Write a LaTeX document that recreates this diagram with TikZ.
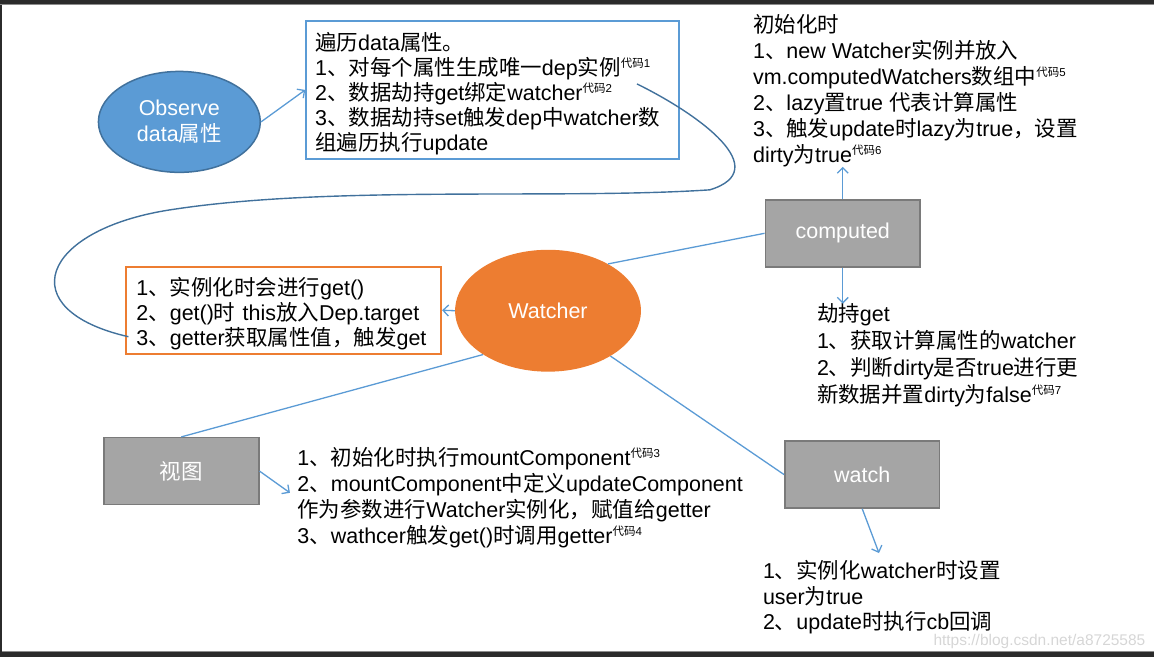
\documentclass[tikz,border=0pt]{standalone}
\usepackage{fontspec}
\setmainfont{Liberation Sans}
\newfontfamily\latinfont{Liberation Sans}
\newfontfamily\cjkfont{Noto Sans CJK SC}
\usetikzlibrary{shapes.geometric,arrows.meta}

\definecolor{obsBlue}{HTML}{5B9BD5}
\definecolor{obsEdge}{HTML}{41719C}
\definecolor{watchOrange}{HTML}{ED7D31}
\definecolor{boxGrey}{HTML}{A5A5A5}
\definecolor{boxEdge}{HTML}{7A7A7A}
\definecolor{frameDark}{HTML}{2B2B2B}
\definecolor{frameGrey}{HTML}{8C8C8C}
\definecolor{markGrey}{HTML}{D6D6D6}

%% chinese characters in the cjk font, the rest in the latin one
\XeTeXinterchartokenstate=1
\newXeTeXintercharclass\cjkclass
\newcount\cjkidx
\cjkidx="3000
\loop
  \XeTeXcharclass\cjkidx=\cjkclass
  \ifnum\cjkidx<"9FFF \advance\cjkidx by 1
\repeat
\cjkidx="FF00
\loop
  \XeTeXcharclass\cjkidx=\cjkclass
  \ifnum\cjkidx<"FFEF \advance\cjkidx by 1
\repeat
\XeTeXinterchartoks 0 \cjkclass={\cjkfont}
\XeTeXinterchartoks 4095 \cjkclass={\cjkfont}
\XeTeXinterchartoks \cjkclass 0={\latinfont}
\XeTeXinterchartoks \cjkclass 4095={\latinfont}

\newcommand\codenote[1]{\raisebox{8pt}{\fontsize{11.5}{11.5}\selectfont 代码#1}}

\begin{document}
\begin{tikzpicture}
[x=1pt,y=-1pt,
  every node/.style={font=\fontsize{21.5}{26}\selectfont},
  lineDecorate/.style={-,line width=1.3pt,draw=obsBlue},%
  arrowDecorate/.style={-{Straight Barb[length=5.5pt,width=11pt]},line width=1.3pt,draw=obsBlue},%
  hookDecorate/.style={line width=1.4pt,draw=obsEdge},%
  blobDecorate/.style={shape=ellipse,inner sep=0pt,text=white,align=center},%
  boxDecorate/.style={shape=rectangle,draw=boxEdge,fill=boxGrey,line width=1.5pt,
    minimum width=155pt,minimum height=67pt,text=white},%
  noteDecorate/.style={shape=rectangle,anchor=north west,line width=2pt,align=left,
    fill=white,font=\fontsize{21.5}{25}\selectfont,
    execute at begin node={\rule{0pt}{25pt}}},%
  textDecorate/.style={anchor=north west,inner sep=0pt,align=left}]
%% frame
\fill[frameDark] (0,0) rectangle (1154,4);
\fill[frameDark] (0,0) rectangle (2,658);
\fill[frameDark] (0,653) rectangle (1154,658);
\draw[frameGrey,line width=1pt] (0,4.5) -- (1154,4.5);
\draw[frameGrey,line width=1pt] (2,652.5) -- (1154,652.5);
\useasboundingbox (0,0) rectangle (1154,658);
%% ellipses
\node (observe) at (179,122) [blobDecorate,fill=obsBlue,draw=obsEdge,line width=1.5pt,
  minimum width=162pt,minimum height=101pt] {Observe\\data属性};
\node (watcher) at (548,311) [blobDecorate,fill=watchOrange,
  minimum width=186pt,minimum height=122pt] {Watcher};
%% grey boxes
\foreach \boxname/\x/\y/\boxtext in {
  computed/843/233.5/computed, view/181/471.5/视图, watch/862.5/475/watch}
{
  \node (\boxname) at (\x,\y) [boxDecorate] {\boxtext};
}
%% framed notes
\node (dataBox) at (305,20) [noteDecorate,draw=obsBlue,inner xsep=9pt,text width=355pt,
  minimum width=373pt,minimum height=138pt]
  {遍历data属性。\\1、对每个属性生成唯一dep实例\codenote{1}\\2、数据劫持get绑定watcher\codenote{2}\\
   3、数据劫持set触发dep中watcher数\\组遍历执行update};
\node (getBox) at (125,266) [noteDecorate,draw=watchOrange,inner xsep=10pt,text width=295pt,
  minimum width=315pt,minimum height=87pt]
  {1、实例化时会进行get()\\2、get()时 this放入Dep.target\\3、getter获取属性值，触发get};
%% plain notes
\node (initText) at (753,14) [textDecorate]
  {初始化时\\1、new Watcher实例并放入\\vm.computedWatchers数组中\codenote{5}\\
   2、lazy置true 代表计算属性\\3、触发update时lazy为true，设置\\dirty为true\codenote{6}};
\node (hijackText) at (817,304) [textDecorate,font=\fontsize{21.5}{27}\selectfont]
  {劫持get\\1、获取计算属性的watcher\\2、判断dirty是否true进行更\\新数据并置dirty为false\codenote{7}};
\node (mountText) at (297,448) [textDecorate]
  {1、初始化时执行mountComponent\codenote{3}\\2、mountComponent中定义updateComponent\\
   作为参数进行Watcher实例化，赋值给getter\\3、wathcer触发get()时调用getter\codenote{4}};
\node (userText) at (763,561) [textDecorate,font=\fontsize{21.5}{25.5}\selectfont]
  {1、实例化watcher时设置\\user为true\\2、update时执行cb回调};
\node (mark) at (1146,642) [text=markGrey,font=\fontsize{15.5}{16}\selectfont,inner sep=0pt,anchor=east]
  {https://blog.csdn.net/a8725585};
%% connectors
\path
\foreach \startnode/\endnode in {
  watcher.38/computed.west, watcher.214/view.north, watcher.324/watch.west}
{
  (\startnode) edge[lineDecorate] (\endnode)
};
\path
\foreach \startnode/\endnode in {
  observe.east/dataBox.west, watcher.west/getBox.east,
  computed.north/computed.north |- initText.south,
  computed.south/computed.south |- hijackText.north}
{
  (\startnode) edge[arrowDecorate] (\endnode)
};
\draw[arrowDecorate,shorten >=9pt] (view.east) -- (mountText.west);
\draw[arrowDecorate,shorten >=8pt] (watch.south) -- (userText.north);
%% hook from the data note to the getter line
\coordinate (hookStart) at (637,84);
\coordinate (hookEnd) at (128,337);
\draw[hookDecorate] (hookStart) .. controls (700,115) and (775,170) .. (710,190)
  .. controls (560,200) and (330,185) .. (170,210)
  .. controls (40,230) and (10,310) .. (hookEnd);
\end{tikzpicture}
\end{document}
